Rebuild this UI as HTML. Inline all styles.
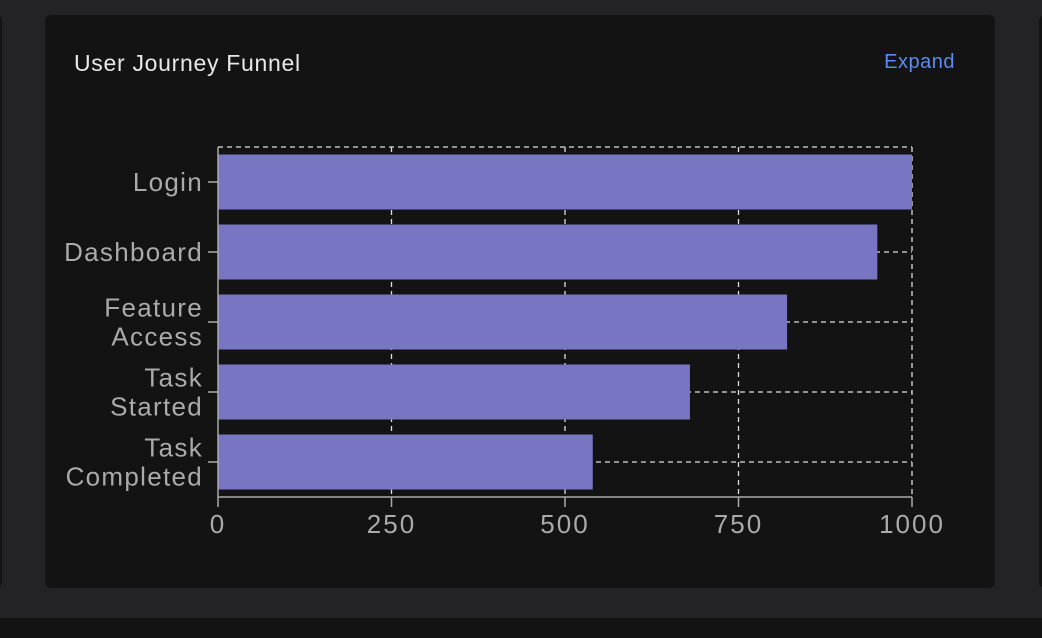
<!DOCTYPE html>
<html><head><style>
body{margin:0;width:1042px;height:638px;background:#232325;position:relative;overflow:hidden;font-family:"Liberation Sans",sans-serif}
.lp{position:absolute;left:-10px;top:15px;width:12px;height:573px;background:#131313;border-radius:6px}
.rp{position:absolute;left:1039px;top:15px;width:20px;height:573px;background:#131313;border-radius:6px}
.bot{position:absolute;left:0;top:618px;width:1042px;height:20px;background:#131313}
.card{position:absolute;left:45px;top:15px;width:950px;height:573px;background:#131313;border-radius:6px}
.title{position:absolute;left:74px;top:50px;color:#e8e8e8;font-size:23px;letter-spacing:0.7px}
.exp{position:absolute;right:87px;top:51px;color:#5b8def;font-size:20px;letter-spacing:0.5px;cursor:pointer}
svg{position:absolute;left:0;top:0}
</style></head><body>
<div class="lp"></div>
<div class="rp"></div>
<div class="bot"></div>
<div class="card"></div>
<div class="title">User Journey Funnel</div>
<div class="exp">Expand</div>
<svg id="chart" width="1042" height="638"></svg>
<script>
const categories=[["Login"],["Dashboard"],["Feature","Access"],["Task","Started"],["Task","Completed"]];
const values=[1000,950,820,680,540];
const ticks=[0,250,500,750,1000];
const X0=218,X1=912,YT=147,YB=497;
const x=v=>X0+(v/1000)*(X1-X0);
const band=(YB-YT)/categories.length;
const svg=document.getElementById('chart');
const NS='http://www.w3.org/2000/svg';
function mk(t,a){const e=document.createElementNS(NS,t);for(const k in a)e.setAttribute(k,a[k]);svg.appendChild(e);return e;}
let g;
g=mk('line',{x1:X0,y1:YT,x2:X1,y2:YT,stroke:'#ddd','stroke-dasharray':'5,4','stroke-width':1.3});

ticks.forEach(t=>{if(t===0)return;const l=mk('line',{x1:x(t),y1:YT,x2:x(t),y2:YB,stroke:'#ddd','stroke-dasharray':'5,4','stroke-width':1.3});

});
categories.forEach((c,i)=>{const cy=YT+band*i+band/2;
const l=mk('line',{x1:X0,y1:cy,x2:X1,y2:cy,stroke:'#ddd','stroke-dasharray':'5,4','stroke-width':1.3});

});
categories.forEach((c,i)=>{const cy=YT+band*i+band/2;
const r=mk('rect',{x:X0,y:cy-27.5,width:x(values[i])-X0,height:55,fill:'#7875c2'});


const tk=mk('line',{x1:X0-10,y1:cy,x2:X0,y2:cy,stroke:'#aaa','stroke-width':1.5});


c.forEach((s,j)=>{const t=mk('text',{x:X0-15,y:cy+9+(j-(c.length-1)/2)*29,'text-anchor':'end',fill:'#aaa','font-size':26,'letter-spacing':1.3,'font-family':'Liberation Sans, sans-serif'});t.textContent=s;

});});
g=mk('line',{x1:X0,y1:YT,x2:X0,y2:YB,stroke:'#aaa','stroke-width':1.5});

g=mk('line',{x1:X0,y1:YB,x2:X1,y2:YB,stroke:'#aaa','stroke-width':1.5});

ticks.forEach(t=>{const l=mk('line',{x1:x(t),y1:YB,x2:x(t),y2:YB+10,stroke:'#aaa','stroke-width':1.5});


const tx=mk('text',{x:x(t),y:YB+36,'text-anchor':'middle',fill:'#aaa','font-size':26,'letter-spacing':2,'font-family':'Liberation Sans, sans-serif'});tx.textContent=t;

});
</script>
</body></html>
